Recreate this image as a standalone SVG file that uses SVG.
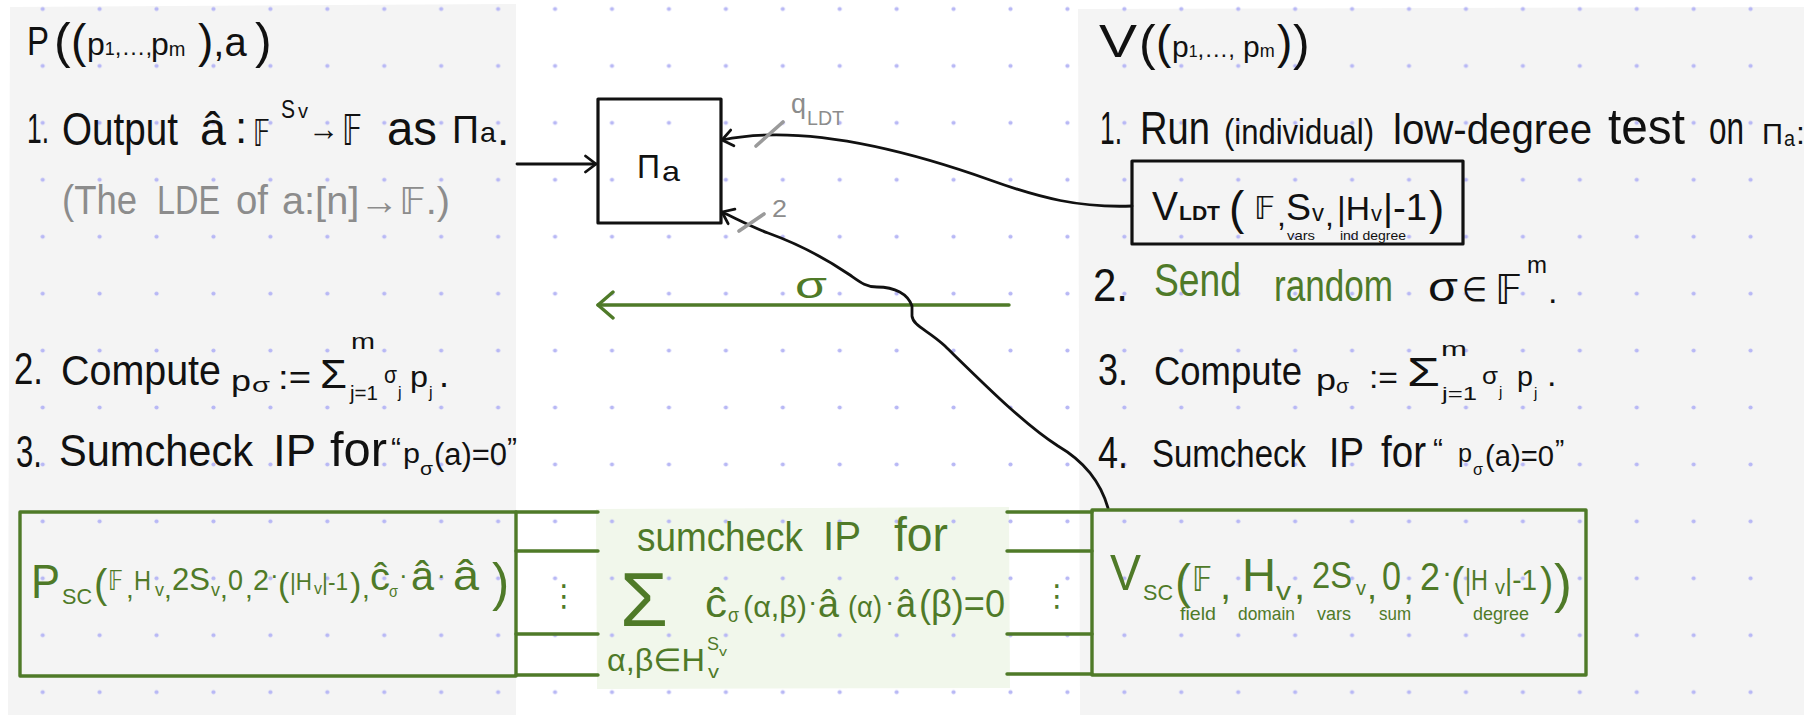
<svg xmlns="http://www.w3.org/2000/svg" width="1804" height="715" viewBox="0 0 1804 715">
<style>
text{font-family:"Liberation Sans","DejaVu Sans",sans-serif;fill:#111}
.g{fill:#4f7a28}
.gr{fill:#8c8c8c}
.bx{fill:none;stroke:#111;stroke-width:3.2;stroke-linejoin:round}
.gbx{fill:none;stroke:#4f7a28;stroke-width:3.4;stroke-linejoin:round}
.ln{fill:none;stroke:#111;stroke-width:2.8;stroke-linecap:round;stroke-linejoin:round}
.gl{fill:none;stroke:#4f7a28;stroke-width:3.4;stroke-linecap:round}
.tick{stroke:#9a9a9a;stroke-width:3.6;stroke-linecap:round}
</style>
<defs>
<pattern id="dots" patternUnits="userSpaceOnUse" x="14.23" y="-19.47" width="56.93" height="56.93">
<circle cx="28.465" cy="28.465" r="2.1" fill="#b8b8f5"/>
</pattern>
<marker id="ah" viewBox="0 0 14 20" refX="12.5" refY="10" markerWidth="14" markerHeight="20" markerUnits="userSpaceOnUse" orient="auto">
<path d="M2,2 L12.5,10 L2,18" fill="none" stroke="#111" stroke-width="2.8" stroke-linecap="round" stroke-linejoin="round"/>
</marker>
<marker id="ahg" viewBox="0 0 20 30" refX="17" refY="15" markerWidth="20" markerHeight="30" markerUnits="userSpaceOnUse" orient="auto">
<path d="M2,2 L17,15 L2,28" fill="none" stroke="#4f7a28" stroke-width="3.4" stroke-linecap="round" stroke-linejoin="round"/>
</marker>
</defs>

<g id="background">
<rect width="1804" height="715" fill="#ffffff"/>
<path d="M10,7 L516,4 L516,715 L8,715 Z" fill="#f4f4f4"/>
<path d="M1078,9 L1804,7 L1804,715 L1080,715 Z" fill="#f4f4f4"/>
<path d="M596,509 L1009,507 L1010,688 L597,689 Z" fill="#f1f7eb"/>
<rect width="1804" height="715" fill="url(#dots)"/>
</g>

<g id="connectors">
<line class="ln" x1="517" y1="164" x2="596" y2="164" marker-end="url(#ah)"/>
<path class="ln" d="M1132,206 C1080,208 1040,198 990,180 C900,148 800,124 722,140" marker-end="url(#ah)"/>
<line class="gl" x1="1009" y1="305" x2="598" y2="305" marker-end="url(#ahg)"/>
<path class="ln" d="M1108,508 C1100,480 1082,460 1058,446 C1025,425 985,385 945,346 C928,330 913,326 912,316 L912,306 C908,294 895,287 877,287 C866,287 860,282 850,275 C825,258 793,242 768,233 C752,227 737,219 722,212" marker-end="url(#ah)"/>
<line class="tick" x1="756" y1="146" x2="783" y2="122"/>
<line class="tick" x1="739" y1="231" x2="764" y2="214"/>
<text class="gr"><tspan x="791" y="113" font-size="28" textLength="15" lengthAdjust="spacingAndGlyphs">q</tspan><tspan x="807" y="125" font-size="20" textLength="37" lengthAdjust="spacingAndGlyphs">LDT</tspan></text>
<text class="gr" x="772" y="217" font-size="24" textLength="15" lengthAdjust="spacingAndGlyphs">2</text>
<text class="g" x="795" y="298" font-size="36" textLength="32" lengthAdjust="spacingAndGlyphs">σ</text>
<path class="gl" d="M516,512 H598 M516,551 H598 M516,634 H598 M516,675 H598 M1007,512 H1092 M1007,551 H1092 M1007,634 H1092 M1007,674 H1092"/>
<text class="g" x="549" y="606" font-size="30">⋮</text>
<text class="g" x="1042" y="606" font-size="30">⋮</text>
</g>

<g id="prover">
<text><tspan x="27" y="55" font-size="40" textLength="22" lengthAdjust="spacingAndGlyphs">P</tspan><tspan x="54" y="58" font-size="50">(</tspan><tspan x="71" y="57" font-size="46">(</tspan><tspan x="87" y="55" font-size="32">p</tspan><tspan y="55" font-size="18">1</tspan><tspan y="55" font-size="24">,…,</tspan><tspan x="151" y="55" font-size="32">p</tspan><tspan y="56" font-size="20">m</tspan><tspan x="198" y="57" font-size="46">)</tspan><tspan y="56" font-size="40">,a</tspan><tspan x="255" y="58" font-size="50">)</tspan></text>
<text><tspan x="27" y="143" font-size="42" textLength="22" lengthAdjust="spacingAndGlyphs">1.</tspan><tspan x="62" y="145" font-size="46" textLength="116" lengthAdjust="spacingAndGlyphs">Output</tspan><tspan x="200" y="145" font-size="46" textLength="26" lengthAdjust="spacingAndGlyphs">â</tspan><tspan x="235" y="143" font-size="44">:</tspan><tspan x="253" y="146" font-size="38" textLength="17" lengthAdjust="spacingAndGlyphs">𝔽</tspan><tspan x="281" y="118" font-size="26" textLength="14" lengthAdjust="spacingAndGlyphs">S</tspan><tspan x="298" y="118" font-size="20" textLength="10" lengthAdjust="spacingAndGlyphs">v</tspan><tspan x="308" y="140" font-size="33" textLength="31" lengthAdjust="spacingAndGlyphs">→</tspan><tspan x="342" y="145" font-size="42" textLength="20" lengthAdjust="spacingAndGlyphs">𝔽</tspan><tspan x="387" y="145" font-size="48" textLength="50" lengthAdjust="spacingAndGlyphs">as</tspan><tspan x="452" y="143" font-size="38" textLength="27" lengthAdjust="spacingAndGlyphs">Π</tspan><tspan x="480" y="142" font-size="28" textLength="16" lengthAdjust="spacingAndGlyphs">a</tspan><tspan x="497" y="145" font-size="44">.</tspan></text>
<text class="gr" font-size="40"><tspan x="62" y="214" textLength="75" lengthAdjust="spacingAndGlyphs">(The</tspan><tspan x="157" y="214" textLength="63" lengthAdjust="spacingAndGlyphs">LDE</tspan><tspan x="236" y="214" textLength="32" lengthAdjust="spacingAndGlyphs">of</tspan><tspan x="282" y="214" font-size="38" textLength="168" lengthAdjust="spacingAndGlyphs">a:[n]→𝔽.)</tspan></text>
<text><tspan x="14" y="384" font-size="44" textLength="29" lengthAdjust="spacingAndGlyphs">2.</tspan><tspan x="61" y="385" font-size="42" textLength="160" lengthAdjust="spacingAndGlyphs">Compute</tspan><tspan x="231" y="391" font-size="30" textLength="20" lengthAdjust="spacingAndGlyphs">p</tspan><tspan x="252" y="392" font-size="20" textLength="18" lengthAdjust="spacingAndGlyphs">σ</tspan><tspan x="278" y="389" font-size="34" textLength="33" lengthAdjust="spacingAndGlyphs">:=</tspan><tspan x="320" y="388" font-size="40" textLength="27" lengthAdjust="spacingAndGlyphs">Σ</tspan><tspan x="351" y="349" font-size="22" textLength="24" lengthAdjust="spacingAndGlyphs">m</tspan><tspan x="350" y="400" font-size="20" textLength="28" lengthAdjust="spacingAndGlyphs">j=1</tspan><tspan x="384" y="383" font-size="24" textLength="13" lengthAdjust="spacingAndGlyphs">σ</tspan><tspan x="398" y="398" font-size="16">j</tspan><tspan x="410" y="387" font-size="30" textLength="18" lengthAdjust="spacingAndGlyphs">p</tspan><tspan x="429" y="398" font-size="16">j</tspan><tspan x="439" y="387" font-size="36">.</tspan></text>
<text><tspan x="16" y="467" font-size="44" textLength="26" lengthAdjust="spacingAndGlyphs">3.</tspan><tspan x="59" y="466" font-size="44" textLength="194" lengthAdjust="spacingAndGlyphs">Sumcheck</tspan><tspan x="273" y="466" font-size="44" textLength="43" lengthAdjust="spacingAndGlyphs">IP</tspan><tspan x="330" y="466" font-size="48" textLength="57" lengthAdjust="spacingAndGlyphs">for</tspan><tspan x="391" y="458" font-size="30">“</tspan><tspan x="403" y="463" font-size="28" textLength="17" lengthAdjust="spacingAndGlyphs">p</tspan><tspan x="420" y="475" font-size="18" textLength="13" lengthAdjust="spacingAndGlyphs">σ</tspan><tspan x="434" y="465" font-size="31" textLength="73" lengthAdjust="spacingAndGlyphs">(a)=0</tspan><tspan x="507" y="458" font-size="30">”</tspan></text>
</g>

<g id="verifier">
<text><tspan x="1099" y="57" font-size="46" textLength="38" lengthAdjust="spacingAndGlyphs">V</tspan><tspan x="1139" y="60" font-size="50">(</tspan><tspan x="1156" y="58" font-size="46">(</tspan><tspan x="1172" y="57" font-size="30">p</tspan><tspan y="57" font-size="16">1</tspan><tspan y="57" font-size="24">,…,</tspan><tspan x="1243" y="57" font-size="30">p</tspan><tspan y="57" font-size="18">m</tspan><tspan x="1277" y="58" font-size="46">)</tspan><tspan x="1293" y="60" font-size="50">)</tspan></text>
<text font-size="50"><tspan x="1100" y="144" font-size="46" textLength="22" lengthAdjust="spacingAndGlyphs">1.</tspan><tspan x="1140" y="144" font-size="46" textLength="70" lengthAdjust="spacingAndGlyphs">Run</tspan><tspan x="1224" y="144" font-size="35" textLength="150" lengthAdjust="spacingAndGlyphs">(individual)</tspan><tspan x="1393" y="144" font-size="43" textLength="199" lengthAdjust="spacingAndGlyphs">low-degree</tspan><tspan x="1608" y="144" textLength="77" lengthAdjust="spacingAndGlyphs">test</tspan><tspan x="1709" y="144" font-size="47" textLength="35" lengthAdjust="spacingAndGlyphs">on</tspan><tspan x="1762" y="144" font-size="30" textLength="21" lengthAdjust="spacingAndGlyphs">Π</tspan><tspan x="1784" y="146" font-size="22" textLength="11" lengthAdjust="spacingAndGlyphs">a</tspan><tspan x="1796" y="144" font-size="32">:</tspan></text>
<text><tspan x="1093" y="301" font-size="46" textLength="35" lengthAdjust="spacingAndGlyphs">2.</tspan><tspan class="g" x="1154" y="296" font-size="46" textLength="87" lengthAdjust="spacingAndGlyphs">Send</tspan><tspan class="g" x="1274" y="301" font-size="44" textLength="119" lengthAdjust="spacingAndGlyphs">random</tspan><tspan x="1428" y="301" font-size="40" textLength="30" lengthAdjust="spacingAndGlyphs">σ</tspan><tspan x="1462" y="301" font-size="34" textLength="25" lengthAdjust="spacingAndGlyphs">∈</tspan><tspan x="1495" y="304" font-size="40" textLength="27" lengthAdjust="spacingAndGlyphs">𝔽</tspan><tspan x="1527" y="273" font-size="24" textLength="20" lengthAdjust="spacingAndGlyphs">m</tspan><tspan x="1548" y="303" font-size="34">.</tspan></text>
<text><tspan x="1098" y="385" font-size="44" textLength="30" lengthAdjust="spacingAndGlyphs">3.</tspan><tspan x="1154" y="385" font-size="40" textLength="148" lengthAdjust="spacingAndGlyphs">Compute</tspan><tspan x="1316" y="390" font-size="30" textLength="20" lengthAdjust="spacingAndGlyphs">p</tspan><tspan x="1336" y="393" font-size="20" textLength="13" lengthAdjust="spacingAndGlyphs">σ</tspan><tspan x="1369" y="388" font-size="32" textLength="29" lengthAdjust="spacingAndGlyphs">:=</tspan><tspan x="1407" y="386" font-size="40" textLength="33" lengthAdjust="spacingAndGlyphs">Σ</tspan><tspan x="1441" y="356" font-size="20" textLength="26" lengthAdjust="spacingAndGlyphs">m</tspan><tspan x="1442" y="400" font-size="18" textLength="35" lengthAdjust="spacingAndGlyphs">j=1</tspan><tspan x="1482" y="384" font-size="24" textLength="16" lengthAdjust="spacingAndGlyphs">σ</tspan><tspan x="1499" y="397" font-size="15">j</tspan><tspan x="1517" y="386" font-size="28" textLength="16" lengthAdjust="spacingAndGlyphs">p</tspan><tspan x="1534" y="398" font-size="15">j</tspan><tspan x="1547" y="386" font-size="34">.</tspan></text>
<text><tspan x="1098" y="468" font-size="44" textLength="30" lengthAdjust="spacingAndGlyphs">4.</tspan><tspan x="1152" y="467" font-size="38" textLength="154" lengthAdjust="spacingAndGlyphs">Sumcheck</tspan><tspan x="1329" y="467" font-size="42" textLength="35" lengthAdjust="spacingAndGlyphs">IP</tspan><tspan x="1381" y="467" font-size="44" textLength="45" lengthAdjust="spacingAndGlyphs">for</tspan><tspan x="1433" y="459" font-size="30">“</tspan><tspan x="1458" y="462" font-size="26" textLength="14" lengthAdjust="spacingAndGlyphs">p</tspan><tspan x="1473" y="475" font-size="16" textLength="10" lengthAdjust="spacingAndGlyphs">σ</tspan><tspan x="1485" y="466" font-size="29" textLength="69" lengthAdjust="spacingAndGlyphs">(a)=0</tspan><tspan x="1555" y="459" font-size="28">”</tspan></text>
</g>

<g id="pi-a">
<rect class="bx" x="598" y="99" width="123" height="124"/>
<text><tspan x="637" y="178" font-size="34" textLength="23" lengthAdjust="spacingAndGlyphs">Π</tspan><tspan x="662" y="181" font-size="28" textLength="18" lengthAdjust="spacingAndGlyphs">a</tspan></text>
</g>

<g id="v-ldt">
<rect class="bx" x="1132" y="161" width="331" height="83"/>
<text><tspan x="1152" y="220" font-size="40" textLength="26" lengthAdjust="spacingAndGlyphs">V</tspan><tspan x="1179" y="220" font-size="20" font-weight="bold" textLength="41" lengthAdjust="spacingAndGlyphs">LDT</tspan><tspan x="1229" y="224" font-size="46">(</tspan><tspan x="1254" y="219" font-size="32" textLength="21" lengthAdjust="spacingAndGlyphs">𝔽</tspan><tspan x="1277" y="226" font-size="32">,</tspan><tspan x="1286" y="220" font-size="36" textLength="25" lengthAdjust="spacingAndGlyphs">S</tspan><tspan x="1312" y="221" font-size="24" textLength="12" lengthAdjust="spacingAndGlyphs">v</tspan><tspan x="1325" y="226" font-size="32">,</tspan><tspan x="1337" y="220" font-size="34" textLength="33" lengthAdjust="spacingAndGlyphs">|H</tspan><tspan x="1371" y="221" font-size="22" textLength="11" lengthAdjust="spacingAndGlyphs">v</tspan><tspan x="1383" y="220" font-size="36" textLength="44" lengthAdjust="spacingAndGlyphs">|-1</tspan><tspan x="1429" y="224" font-size="46">)</tspan></text>
<text x="1287" y="240" font-size="13" textLength="28" lengthAdjust="spacingAndGlyphs">vars</text>
<text x="1340" y="240" font-size="13" textLength="66" lengthAdjust="spacingAndGlyphs">ind degree</text>
</g>

<g id="p-sc">
<rect class="gbx" x="20" y="512" width="496" height="164"/>
<text class="g"><tspan x="31" y="598" font-size="48" textLength="29" lengthAdjust="spacingAndGlyphs">P</tspan><tspan x="62" y="604" font-size="22" textLength="30" lengthAdjust="spacingAndGlyphs">SC</tspan><tspan x="94" y="598" font-size="40">(</tspan><tspan x="108" y="590" font-size="26" textLength="15" lengthAdjust="spacingAndGlyphs">𝔽</tspan><tspan x="126" y="598" font-size="28">,</tspan><tspan x="134" y="590" font-size="28" textLength="17" lengthAdjust="spacingAndGlyphs">H</tspan><tspan x="155" y="596" font-size="18" textLength="9" lengthAdjust="spacingAndGlyphs">v</tspan><tspan x="164" y="598" font-size="28">,</tspan><tspan x="172" y="590" font-size="32" textLength="38" lengthAdjust="spacingAndGlyphs">2S</tspan><tspan x="211" y="596" font-size="18" textLength="9" lengthAdjust="spacingAndGlyphs">v</tspan><tspan x="220" y="598" font-size="28">,</tspan><tspan x="228" y="590" font-size="30" textLength="15" lengthAdjust="spacingAndGlyphs">0</tspan><tspan x="245" y="598" font-size="28">,</tspan><tspan x="253" y="590" font-size="30" textLength="16" lengthAdjust="spacingAndGlyphs">2</tspan><tspan x="270" y="584" font-size="26">·</tspan><tspan x="278" y="596" font-size="34">(</tspan><tspan x="290" y="590" font-size="24" textLength="22" lengthAdjust="spacingAndGlyphs">|H</tspan><tspan x="314" y="594" font-size="16" textLength="8" lengthAdjust="spacingAndGlyphs">v</tspan><tspan x="322" y="590" font-size="24" textLength="26" lengthAdjust="spacingAndGlyphs">|-1</tspan><tspan x="350" y="596" font-size="34">)</tspan><tspan x="362" y="598" font-size="28">,</tspan><tspan x="370" y="590" font-size="38" textLength="20" lengthAdjust="spacingAndGlyphs">ĉ</tspan><tspan x="389" y="597" font-size="16" textLength="9" lengthAdjust="spacingAndGlyphs">σ</tspan><tspan x="399" y="584" font-size="26">·</tspan><tspan x="411" y="590" font-size="40" textLength="23" lengthAdjust="spacingAndGlyphs">â</tspan><tspan x="437" y="584" font-size="26">·</tspan><tspan x="453" y="590" font-size="42" textLength="26" lengthAdjust="spacingAndGlyphs">â</tspan><tspan x="492" y="600" font-size="52">)</tspan></text>
</g>

<g id="sumcheck">
<text class="g"><tspan x="637" y="551" font-size="41" textLength="166" lengthAdjust="spacingAndGlyphs">sumcheck</tspan><tspan x="823" y="550" font-size="40" textLength="38" lengthAdjust="spacingAndGlyphs">IP</tspan><tspan x="894" y="551" font-size="48" textLength="54" lengthAdjust="spacingAndGlyphs">for</tspan></text>
<text class="g"><tspan x="620" y="626" font-size="76" textLength="48" lengthAdjust="spacingAndGlyphs">Σ</tspan><tspan x="705" y="617" font-size="40" textLength="22" lengthAdjust="spacingAndGlyphs">ĉ</tspan><tspan x="728" y="622" font-size="20" textLength="11" lengthAdjust="spacingAndGlyphs">σ</tspan><tspan x="743" y="617" font-size="30" textLength="64" lengthAdjust="spacingAndGlyphs">(α,β)</tspan><tspan x="808" y="611" font-size="28">·</tspan><tspan x="818" y="617" font-size="38" textLength="21" lengthAdjust="spacingAndGlyphs">â</tspan><tspan x="848" y="617" font-size="29" textLength="34" lengthAdjust="spacingAndGlyphs">(α)</tspan><tspan x="885" y="611" font-size="28">·</tspan><tspan x="896" y="617" font-size="38" textLength="20" lengthAdjust="spacingAndGlyphs">â</tspan><tspan x="919" y="617" font-size="38" textLength="86" lengthAdjust="spacingAndGlyphs">(β)=0</tspan></text>
<text class="g"><tspan x="607" y="671" font-size="32" textLength="98" lengthAdjust="spacingAndGlyphs">α,β∈H</tspan><tspan x="708" y="678" font-size="18" textLength="11" lengthAdjust="spacingAndGlyphs">v</tspan><tspan x="707" y="650" font-size="18" textLength="12" lengthAdjust="spacingAndGlyphs">S</tspan><tspan x="719" y="656" font-size="13" textLength="8" lengthAdjust="spacingAndGlyphs">v</tspan></text>
</g>

<g id="v-sc">
<rect class="gbx" x="1092" y="510" width="494" height="165"/>
<text class="g"><tspan x="1110" y="590" font-size="50" textLength="31" lengthAdjust="spacingAndGlyphs">V</tspan><tspan x="1143" y="600" font-size="22" textLength="30" lengthAdjust="spacingAndGlyphs">SC</tspan><tspan x="1175" y="598" font-size="48">(</tspan><tspan x="1192" y="591" font-size="34" textLength="20" lengthAdjust="spacingAndGlyphs">𝔽</tspan><tspan x="1220" y="599" font-size="40">,</tspan><tspan x="1242" y="591" font-size="46" textLength="34" lengthAdjust="spacingAndGlyphs">H</tspan><tspan x="1276" y="600" font-size="26" textLength="15" lengthAdjust="spacingAndGlyphs">v</tspan><tspan x="1294" y="599" font-size="40">,</tspan><tspan x="1312" y="588" font-size="36" textLength="40" lengthAdjust="spacingAndGlyphs">2S</tspan><tspan x="1356" y="595" font-size="20" textLength="10" lengthAdjust="spacingAndGlyphs">v</tspan><tspan x="1367" y="599" font-size="36">,</tspan><tspan x="1382" y="590" font-size="40" textLength="19" lengthAdjust="spacingAndGlyphs">0</tspan><tspan x="1403" y="599" font-size="40">,</tspan><tspan x="1420" y="590" font-size="38" textLength="20" lengthAdjust="spacingAndGlyphs">2</tspan><tspan x="1442" y="582" font-size="30">·</tspan><tspan x="1451" y="596" font-size="40">(</tspan><tspan x="1465" y="590" font-size="30" textLength="23" lengthAdjust="spacingAndGlyphs">|H</tspan><tspan x="1495" y="594" font-size="20" textLength="10" lengthAdjust="spacingAndGlyphs">v</tspan><tspan x="1505" y="590" font-size="30" textLength="32" lengthAdjust="spacingAndGlyphs">|-1</tspan><tspan x="1540" y="596" font-size="40">)</tspan><tspan x="1554" y="602" font-size="54">)</tspan></text>
<text class="g" font-size="19"><tspan x="1180" y="620" textLength="36" lengthAdjust="spacingAndGlyphs">field</tspan><tspan x="1238" y="620" textLength="57" lengthAdjust="spacingAndGlyphs">domain</tspan><tspan x="1317" y="620" textLength="34" lengthAdjust="spacingAndGlyphs">vars</tspan><tspan x="1379" y="620" textLength="32" lengthAdjust="spacingAndGlyphs">sum</tspan><tspan x="1473" y="620" textLength="56" lengthAdjust="spacingAndGlyphs">degree</tspan></text>
</g>
</svg>
